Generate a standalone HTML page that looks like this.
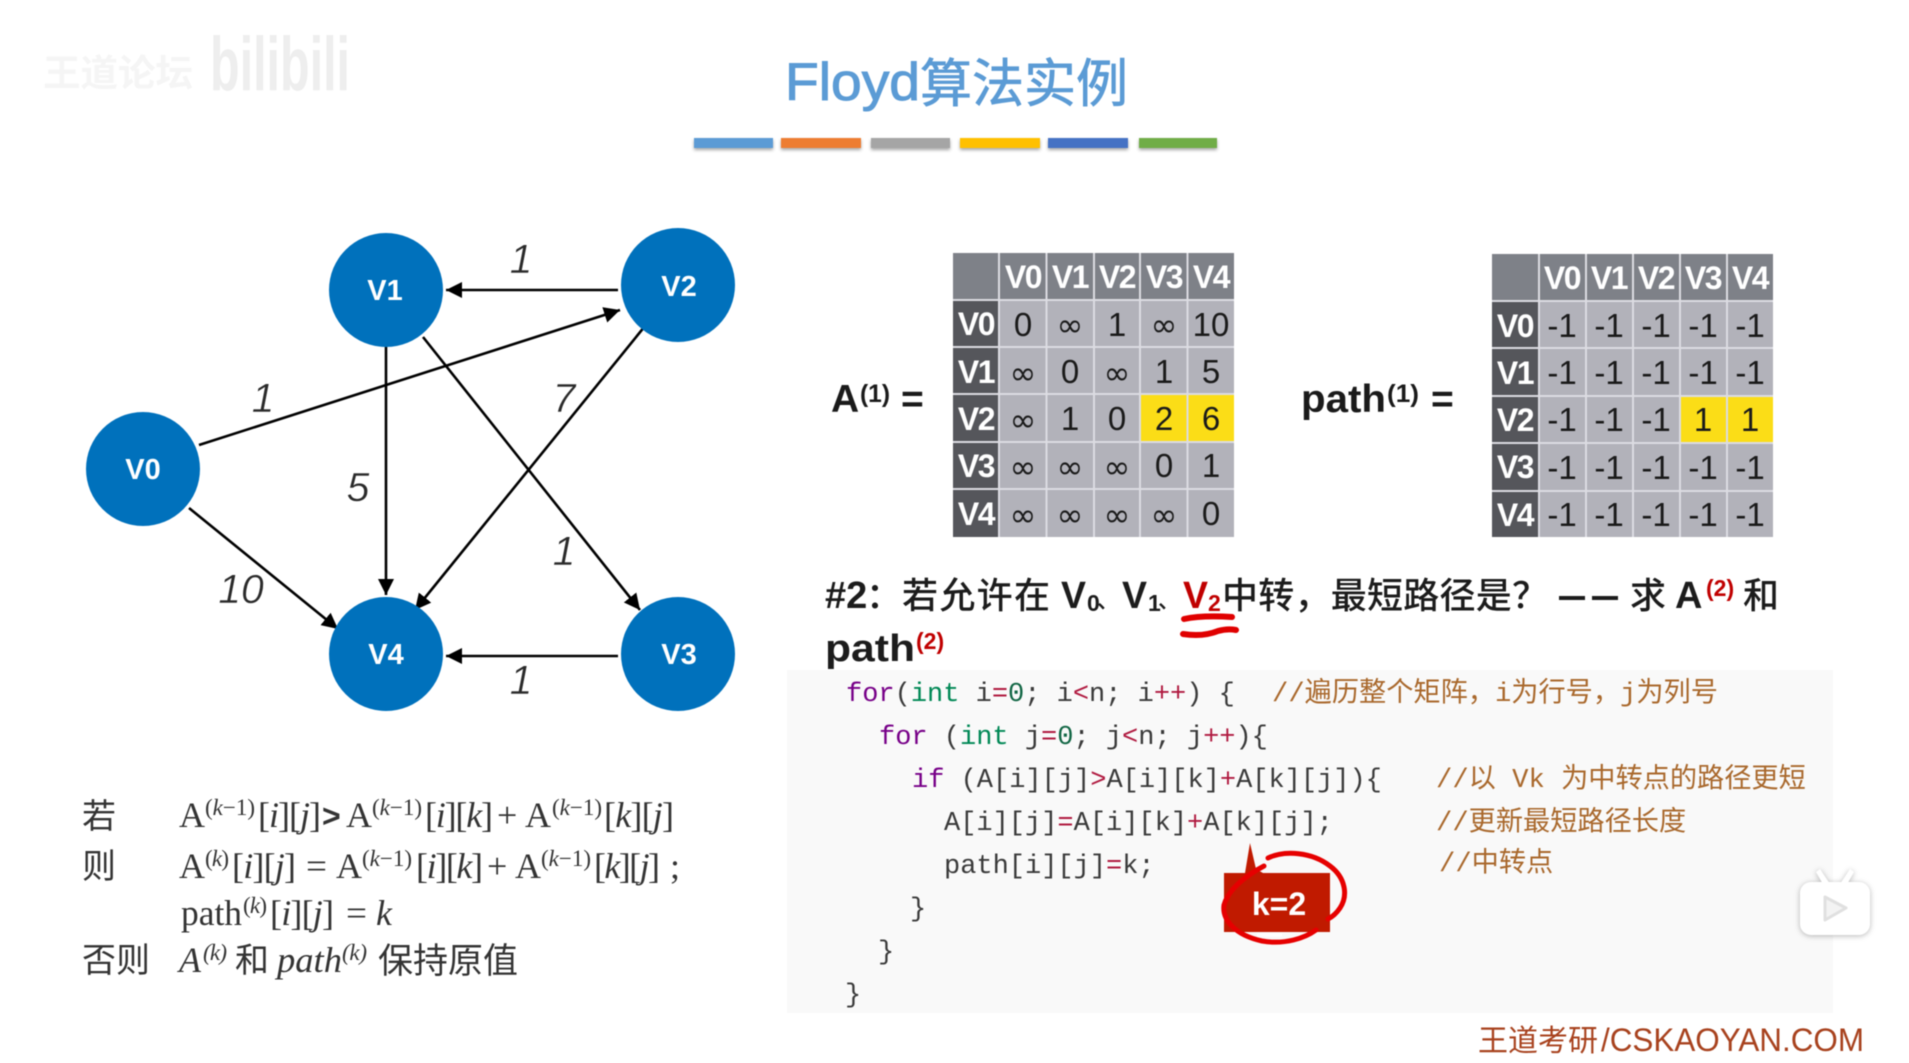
<!DOCTYPE html>
<html><head><meta charset="utf-8"><title>Floyd算法实例</title>
<style>
html,body{margin:0;padding:0;background:#fff;width:1909px;height:1063px;overflow:hidden}
svg{display:block;filter:blur(.5px)}
text{white-space:pre}
.n{font:bold 29px "Liberation Sans",sans-serif;fill:#fff;text-anchor:middle}
.w{font:italic 41px "Liberation Sans",sans-serif;fill:#2a2a2a;text-anchor:middle;stroke:#fff;stroke-width:.5px}
.h{font:bold 32px "Liberation Sans",sans-serif;fill:#fff;text-anchor:middle;letter-spacing:-1.5px}
.d{font:33px "Liberation Sans","DejaVu Sans",sans-serif;fill:#1a1a1a;text-anchor:middle}
.i{font:32px "DejaVu Sans",sans-serif;fill:#1a1a1a;text-anchor:middle}
.c{font:27px "Liberation Mono","Noto Sans CJK SC",monospace;fill:#3a3a3a}
.kw{fill:#770088}.ty{fill:#008855}.op{fill:#b01a40}.nm{fill:#116644}
.cm{font:27.2px "Liberation Mono","Noto Sans CJK SC",monospace;fill:#a9682c}
.f{font:36px "Liberation Serif",serif;fill:#333}
.fi{font:italic 36px "Liberation Serif",serif;fill:#333}
.fs{font:23px "Liberation Serif",serif;fill:#333}
.fsi{font:italic 23px "Liberation Serif",serif;fill:#333}
.fc{font:34px "Liberation Sans","Noto Sans CJK SC",sans-serif;fill:#333}
.q{font:500 36px "Liberation Sans","Noto Sans CJK SC",sans-serif;fill:#1c1c1c}
.qs{font:500 22px "Liberation Sans","Noto Sans CJK SC",sans-serif;fill:#1c1c1c}
.qb{font:bold 38px "Liberation Sans","Noto Sans CJK SC",sans-serif;fill:#1c1c1c}
.sb{font:bold 23px "Liberation Sans",sans-serif;fill:#1c1c1c}
.red{fill:#c00000}
</style></head><body>
<svg width="1909" height="1063" viewBox="0 0 1909 1063" xmlns="http://www.w3.org/2000/svg">
<defs>
<marker id="a" markerUnits="userSpaceOnUse" markerWidth="18" markerHeight="16" refX="16" refY="8" orient="auto"><path d="M0 0L16 8L0 16Z" fill="#000"/></marker>
<filter id="sh" x="-10%" y="-30%" width="120%" height="180%"><feDropShadow dx="0" dy="2" stdDeviation="1.5" flood-color="#000" flood-opacity=".35"/></filter>
</defs>
<rect width="1909" height="1063" fill="#fff"/>

<!-- watermark -->
<text x="43" y="86" font-family="Noto Sans CJK SC,sans-serif" font-size="37" font-weight="700" fill="#f5f5f5" textLength="150" lengthAdjust="spacingAndGlyphs">王道论坛</text>
<text x="210" y="90" font-family="Liberation Sans,sans-serif" font-size="76" font-weight="700" fill="#eeeeee" textLength="140" lengthAdjust="spacingAndGlyphs">bilibili</text>

<!-- title -->
<text x="785" y="100" font-family="Liberation Sans,sans-serif" font-size="53" fill="#5b9bd5" stroke="#5b9bd5" stroke-width="1" textLength="135" lengthAdjust="spacingAndGlyphs">Floyd</text>
<text x="920" y="102" font-family="Noto Sans CJK SC,sans-serif" font-size="52" fill="#5b9bd5" stroke="#5b9bd5" stroke-width=".8">算法实例</text>
<g filter="url(#sh)">
<rect x="694" y="138" width="79" height="10" fill="#5b9bd5"/>
<rect x="781" y="138" width="80" height="10" fill="#ed7d31"/>
<rect x="871" y="138" width="79" height="10" fill="#a5a5a5"/>
<rect x="960" y="138" width="80" height="10" fill="#ffc000"/>
<rect x="1048" y="138" width="80" height="10" fill="#4472c4"/>
<rect x="1139" y="138" width="78" height="10" fill="#70ad47"/>
</g>

<!-- graph edges -->
<g stroke="#000" stroke-width="2.6" fill="none">
<line x1="618" y1="290" x2="446" y2="290" marker-end="url(#a)"/>
<line x1="618" y1="656" x2="446" y2="656" marker-end="url(#a)"/>
<line x1="199" y1="445" x2="620" y2="310" marker-end="url(#a)"/>
<line x1="386" y1="347" x2="386" y2="595" marker-end="url(#a)"/>
<line x1="423" y1="337" x2="640" y2="610" marker-end="url(#a)"/>
<line x1="645" y1="326" x2="415" y2="610" marker-end="url(#a)"/>
<line x1="189" y1="508" x2="338" y2="629" marker-end="url(#a)"/>
</g>
<g fill="#0071bc">
<circle cx="386" cy="290" r="57"/>
<circle cx="678" cy="285" r="57"/>
<circle cx="143" cy="469" r="57"/>
<circle cx="386" cy="654" r="57"/>
<circle cx="678" cy="654" r="57"/>
</g>
<text class="n" x="385" y="300">V1</text>
<text class="n" x="679" y="296">V2</text>
<text class="n" x="143" y="479">V0</text>
<text class="n" x="386" y="664">V4</text>
<text class="n" x="679" y="664">V3</text>
<text class="w" x="521" y="273">1</text>
<text class="w" x="263" y="412">1</text>
<text class="w" x="564" y="412">7</text>
<text class="w" x="358" y="501">5</text>
<text class="w" x="564" y="565">1</text>
<text class="w" x="241" y="603">10</text>
<text class="w" x="521" y="694">1</text>

<!-- A(1) label -->
<text x="831" y="412" font-family="Liberation Sans,sans-serif" font-weight="700" font-size="39" fill="#1a1a1a">A</text>
<text x="860" y="402" font-family="Liberation Sans,sans-serif" font-weight="700" font-size="25" fill="#1a1a1a" textLength="30" lengthAdjust="spacingAndGlyphs">(1)</text>
<text x="901" y="412" font-family="Liberation Sans,sans-serif" font-weight="700" font-size="39" fill="#1a1a1a">=</text>
<text x="1301" y="412" font-family="Liberation Sans,sans-serif" font-weight="700" font-size="39" fill="#1a1a1a" textLength="85" lengthAdjust="spacingAndGlyphs">path</text>
<text x="1387" y="402" font-family="Liberation Sans,sans-serif" font-weight="700" font-size="25" fill="#1a1a1a" textLength="32" lengthAdjust="spacingAndGlyphs">(1)</text>
<text x="1431" y="412" font-family="Liberation Sans,sans-serif" font-weight="700" font-size="39" fill="#1a1a1a">=</text>

<!-- table A -->
<rect x="953" y="253" width="281" height="284" fill="#b2b2ba"/>
<rect x="953" y="253" width="281" height="47" fill="#7e8188"/>
<rect x="953" y="300" width="46" height="237" fill="#55565b"/>
<rect x="1140" y="394" width="94" height="48" fill="#fbdd17"/>
<g stroke="#dcdce2" stroke-width="2">
<line x1="999" y1="253" x2="999" y2="537"/><line x1="1046.5" y1="253" x2="1046.5" y2="537"/><line x1="1094" y1="253" x2="1094" y2="537"/><line x1="1140" y1="253" x2="1140" y2="537"/><line x1="1187.5" y1="253" x2="1187.5" y2="537"/>
<line x1="953" y1="300" x2="1234" y2="300"/><line x1="953" y1="347" x2="1234" y2="347"/><line x1="953" y1="394" x2="1234" y2="394"/><line x1="953" y1="442" x2="1234" y2="442"/><line x1="953" y1="489" x2="1234" y2="489"/>
</g>
<text class="h" x="1023" y="288">V0</text><text class="h" x="1070" y="288">V1</text><text class="h" x="1117" y="288">V2</text><text class="h" x="1164" y="288">V3</text><text class="h" x="1211" y="288">V4</text>
<text class="h" x="976" y="335">V0</text><text class="h" x="976" y="383">V1</text><text class="h" x="976" y="430">V2</text><text class="h" x="976" y="477">V3</text><text class="h" x="976" y="525">V4</text>
<text class="d" x="1023" y="336">0</text><text class="i" x="1070" y="336">∞</text><text class="d" x="1117" y="336">1</text><text class="i" x="1164" y="336">∞</text><text class="d" x="1211" y="336">10</text>
<text class="i" x="1023" y="384">∞</text><text class="d" x="1070" y="383">0</text><text class="i" x="1117" y="384">∞</text><text class="d" x="1164" y="383">1</text><text class="d" x="1211" y="383">5</text>
<text class="i" x="1023" y="431">∞</text><text class="d" x="1070" y="430">1</text><text class="d" x="1117" y="430">0</text><text class="d" x="1164" y="430">2</text><text class="d" x="1211" y="430">6</text>
<text class="i" x="1023" y="478">∞</text><text class="i" x="1070" y="478">∞</text><text class="i" x="1117" y="478">∞</text><text class="d" x="1164" y="477">0</text><text class="d" x="1211" y="477">1</text>
<text class="i" x="1023" y="526">∞</text><text class="i" x="1070" y="526">∞</text><text class="i" x="1117" y="526">∞</text><text class="i" x="1164" y="526">∞</text><text class="d" x="1211" y="525">0</text>

<!-- table path -->
<rect x="1492" y="254" width="281" height="283" fill="#b2b2ba"/>
<rect x="1492" y="254" width="281" height="47" fill="#7e8188"/>
<rect x="1492" y="301" width="47" height="236" fill="#55565b"/>
<rect x="1680" y="396" width="93" height="47" fill="#fbdd17"/>
<g stroke="#dcdce2" stroke-width="2">
<line x1="1539" y1="254" x2="1539" y2="537"/><line x1="1586" y1="254" x2="1586" y2="537"/><line x1="1633" y1="254" x2="1633" y2="537"/><line x1="1680" y1="254" x2="1680" y2="537"/><line x1="1727" y1="254" x2="1727" y2="537"/>
<line x1="1492" y1="301" x2="1773" y2="301"/><line x1="1492" y1="348" x2="1773" y2="348"/><line x1="1492" y1="396" x2="1773" y2="396"/><line x1="1492" y1="443" x2="1773" y2="443"/><line x1="1492" y1="491" x2="1773" y2="491"/>
</g>
<text class="h" x="1562" y="289">V0</text><text class="h" x="1609" y="289">V1</text><text class="h" x="1656" y="289">V2</text><text class="h" x="1703" y="289">V3</text><text class="h" x="1750" y="289">V4</text>
<text class="h" x="1515" y="337">V0</text><text class="h" x="1515" y="384">V1</text><text class="h" x="1515" y="431">V2</text><text class="h" x="1515" y="478">V3</text><text class="h" x="1515" y="526">V4</text>
<text class="d" x="1562" y="337">-1</text><text class="d" x="1609" y="337">-1</text><text class="d" x="1656" y="337">-1</text><text class="d" x="1703" y="337">-1</text><text class="d" x="1750" y="337">-1</text>
<text class="d" x="1562" y="384">-1</text><text class="d" x="1609" y="384">-1</text><text class="d" x="1656" y="384">-1</text><text class="d" x="1703" y="384">-1</text><text class="d" x="1750" y="384">-1</text>
<text class="d" x="1562" y="431">-1</text><text class="d" x="1609" y="431">-1</text><text class="d" x="1656" y="431">-1</text><text class="d" x="1703" y="431">1</text><text class="d" x="1750" y="431">1</text>
<text class="d" x="1562" y="479">-1</text><text class="d" x="1609" y="479">-1</text><text class="d" x="1656" y="479">-1</text><text class="d" x="1703" y="479">-1</text><text class="d" x="1750" y="479">-1</text>
<text class="d" x="1562" y="526">-1</text><text class="d" x="1609" y="526">-1</text><text class="d" x="1656" y="526">-1</text><text class="d" x="1703" y="526">-1</text><text class="d" x="1750" y="526">-1</text>

<!-- question -->
<text class="qb" x="825" y="608">#2</text><text class="q" x="866" y="608">：</text>
<text class="q" x="902" y="608" textLength="148">若允许在</text>
<text class="qb" x="1061" y="608" textLength="25" lengthAdjust="spacingAndGlyphs">V</text><text class="sb" x="1087" y="611">0</text><text class="qs" x="1097" y="608">、</text>
<text class="qb" x="1122" y="608" textLength="25" lengthAdjust="spacingAndGlyphs">V</text><text class="sb" x="1148" y="611">1</text><text class="qs" x="1158" y="608">、</text>
<text class="qb red" x="1183" y="608" textLength="25" lengthAdjust="spacingAndGlyphs">V</text><text class="sb red" x="1208" y="611">2</text>
<text class="q" x="1222" y="608" textLength="326" lengthAdjust="spacing">中转，最短路径是？</text>
<rect x="1559" y="596" width="26" height="4" fill="#1c1c1c"/><rect x="1592" y="596" width="26" height="4" fill="#1c1c1c"/>
<text class="q" x="1630" y="608">求</text>
<text class="qb" x="1675" y="608">A</text><text class="sb red" x="1706" y="596">(2)</text>
<text class="q" x="1743" y="608">和</text>
<text class="qb" x="825" y="661" textLength="90" lengthAdjust="spacingAndGlyphs">path</text><text class="sb red" x="916" y="649">(2)</text>
<path d="M1184 619C1198 616 1216 616 1232 617" stroke="#e00000" stroke-width="6" fill="none" stroke-linecap="round"/>
<path d="M1183 634C1196 636 1208 635 1218 631C1225 629 1231 629 1236 630" stroke="#e00000" stroke-width="6" fill="none" stroke-linecap="round"/>

<!-- code -->
<rect x="787" y="670" width="1046" height="343" fill="#f9f9f9"/>
<text class="c" x="846" y="701"><tspan class="kw">for</tspan>(<tspan class="ty">int</tspan> i<tspan class="op">=</tspan><tspan class="nm">0</tspan>; i<tspan class="op">&lt;</tspan>n; i<tspan class="op">++</tspan>) {</text>
<text class="cm" x="1272" y="701">//遍历整个矩阵，i为行号，j为列号</text>
<text class="c" x="879" y="744"><tspan class="kw">for</tspan> (<tspan class="ty">int</tspan> j<tspan class="op">=</tspan><tspan class="nm">0</tspan>; j<tspan class="op">&lt;</tspan>n; j<tspan class="op">++</tspan>){</text>
<text class="c" x="912" y="787"><tspan class="kw">if</tspan> (A[i][j]<tspan class="op">&gt;</tspan>A[i][k]<tspan class="op">+</tspan>A[k][j]){</text>
<text class="cm" x="1436" y="787">//以 Vk 为中转点的路径更短</text>
<text class="c" x="944" y="830">A[i][j]<tspan class="op">=</tspan>A[i][k]<tspan class="op">+</tspan>A[k][j];</text>
<text class="cm" x="1436" y="830">//更新最短路径长度</text>
<text class="c" x="944" y="873">path[i][j]<tspan class="op">=</tspan>k;</text>
<text class="cm" x="1439" y="871">//中转点</text>
<text class="c" x="910" y="916">}</text>
<text class="c" x="878" y="959">}</text>
<text class="c" x="845" y="1002">}</text>

<!-- k=2 callout -->
<path d="M1224 873H1245L1250 843L1256 869L1263 873H1330V932H1224Z" fill="#c01a00"/>
<text x="1279" y="915" font-family="Liberation Sans,sans-serif" font-size="32" font-weight="700" fill="#fff" text-anchor="middle">k=2</text>
<path d="M1268 858C1285 850 1312 852 1330 866C1346 878 1348 896 1340 908C1336 914 1332 917 1328 919M1264 866C1245 876 1228 890 1224 905C1222 920 1235 935 1262 941C1285 945 1305 938 1316 930" fill="none" stroke="#e60000" stroke-width="5" stroke-linecap="round"/>
<path d="M1257 935H1282" stroke="#fff" stroke-width="3"/>

<!-- footer -->
<text x="1478" y="1051" font-family="Noto Sans CJK SC,sans-serif" font-size="30" fill="#a8421e">王道考研</text>
<text x="1601" y="1051" font-family="Liberation Sans,sans-serif" font-size="32" fill="#a8421e" textLength="263" lengthAdjust="spacingAndGlyphs">/CSKAOYAN.COM</text>

<!-- player icon -->
<g style="filter:drop-shadow(0 1px 3px rgba(0,0,0,.28))">
<path d="M1816 872L1820 869L1830 884H1840L1850 869L1854 872L1846 886H1824Z" fill="#fff"/>
<rect x="1800" y="882" width="70" height="53" rx="11" fill="#fff"/>
</g>
<path d="M1825 897L1846 908L1825 920Z" fill="#f3f3f3" stroke="#e0e0e0" stroke-width="3" stroke-linejoin="round"/>

<!-- formula -->
<text class="fc" x="82" y="828">若</text>
<text class="f" x="179" y="827">A</text><text class="fs" x="205" y="815" textLength="50">(<tspan font-style="italic">k</tspan>−1)</text><text class="f" x="258" y="827" textLength="63">[<tspan font-style="italic">i</tspan>][<tspan font-style="italic">j</tspan>]</text><text x="322" y="827" font-family="Liberation Sans,sans-serif" font-size="32" font-weight="700" fill="#333">&gt;</text>
<text class="f" x="346" y="827">A</text><text class="fs" x="372" y="815" textLength="50">(<tspan font-style="italic">k</tspan>−1)</text><text class="f" x="425" y="827" textLength="68">[<tspan font-style="italic">i</tspan>][<tspan font-style="italic">k</tspan>]</text><text class="f" x="497" y="827">+</text>
<text class="f" x="525" y="827">A</text><text class="fs" x="552" y="815" textLength="50">(<tspan font-style="italic">k</tspan>−1)</text><text class="f" x="604" y="827" textLength="70">[<tspan font-style="italic">k</tspan>][<tspan font-style="italic">j</tspan>]</text>

<text class="fc" x="82" y="878">则</text>
<text class="f" x="179" y="878">A</text><text class="fs" x="205" y="866" textLength="24">(<tspan font-style="italic">k</tspan>)</text><text class="f" x="232" y="878" textLength="64">[<tspan font-style="italic">i</tspan>][<tspan font-style="italic">j</tspan>]</text><text class="f" x="306" y="878" textLength="21" lengthAdjust="spacingAndGlyphs">=</text>
<text class="f" x="336" y="878">A</text><text class="fs" x="362" y="866" textLength="50">(<tspan font-style="italic">k</tspan>−1)</text><text class="f" x="416" y="878" textLength="67">[<tspan font-style="italic">i</tspan>][<tspan font-style="italic">k</tspan>]</text><text class="f" x="487" y="878">+</text>
<text class="f" x="515" y="878">A</text><text class="fs" x="541" y="866" textLength="50">(<tspan font-style="italic">k</tspan>−1)</text><text class="f" x="594" y="878" textLength="66">[<tspan font-style="italic">k</tspan>][<tspan font-style="italic">j</tspan>]</text><text class="f" x="670" y="878">;</text>

<text class="f" x="181" y="925" textLength="61" lengthAdjust="spacingAndGlyphs">path</text><text class="fs" x="243" y="913" textLength="24">(<tspan font-style="italic">k</tspan>)</text><text class="f" x="270" y="925" textLength="64">[<tspan font-style="italic">i</tspan>][<tspan font-style="italic">j</tspan>]</text><text class="f" x="346" y="925" textLength="21" lengthAdjust="spacingAndGlyphs">=</text><text class="fi" x="376" y="925">k</text>

<text class="fc" x="82" y="972">否则</text>
<text class="fi" x="179" y="972">A</text><text class="fsi" x="203" y="960" textLength="24">(k)</text>
<text class="fc" x="235" y="972">和</text>
<text class="fi" x="277" y="972" textLength="65" lengthAdjust="spacingAndGlyphs">path</text><text class="fsi" x="342" y="960" textLength="25">(k)</text>
<text class="fc" x="378" y="973" style="font-size:35px">保持原值</text>
</svg>
</body></html>
